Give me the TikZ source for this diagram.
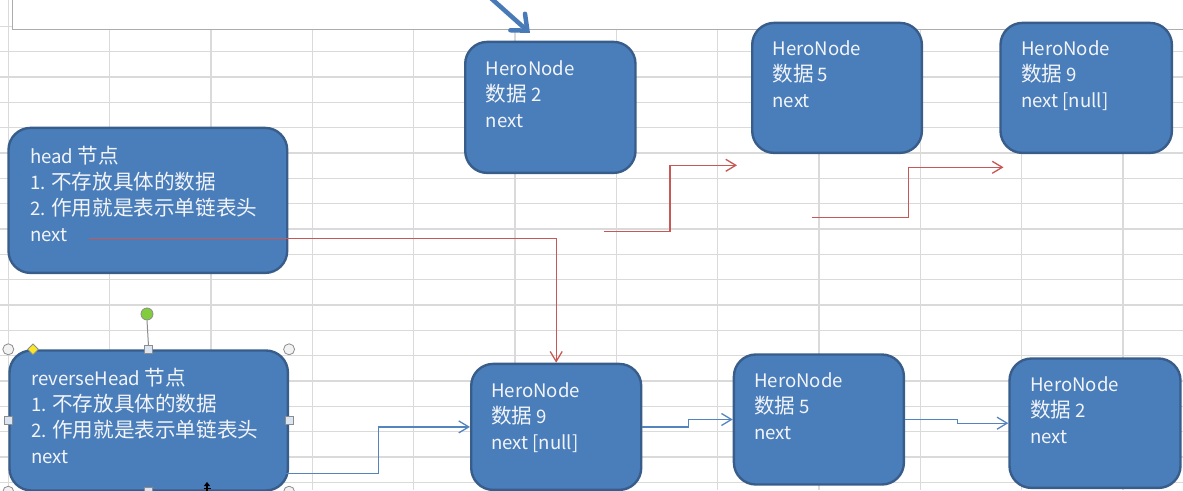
\documentclass[tikz,border=0pt]{standalone}
\usepackage{fontspec}
\setmainfont{Noto Sans CJK SC}
\usetikzlibrary{arrows.meta,shapes.geometric}
\newcommand\zh[1]{{\fontsize{20.6}{26}\selectfont #1}}
\definecolor{boxfill}{RGB}{74,126,187}
\definecolor{boxborder}{RGB}{56,93,138}
\definecolor{txtcol}{RGB}{242,244,248}
\definecolor{gridcol}{RGB}{218,218,218}
\definecolor{redline}{RGB}{200,88,86}
\definecolor{blueline}{RGB}{84,132,190}
\definecolor{bigblue}{RGB}{72,122,184}
\definecolor{handlefill}{RGB}{220,230,242}
\definecolor{handledraw}{RGB}{140,140,140}
\definecolor{greendot}{RGB}{130,205,60}
\definecolor{yellowd}{RGB}{250,230,40}
\begin{document}
\begin{tikzpicture}[x=1pt,y=-1pt,
  hbox/.style={draw=boxborder, fill=boxfill, line width=2.4pt, rounded corners=22pt, anchor=north west, inner sep=0pt},
  txt/.style={text=txtcol, font=\fontsize{18.6}{26}\selectfont, align=left, anchor=base west, inner sep=0pt},
  redc/.style={draw=redline, line width=1.3pt, -{Straight Barb[length=10pt,width=12pt]}},
  bluec/.style={draw=blueline, line width=1.3pt, -{Straight Barb[length=10pt,width=12pt]}},
  gridl/.style={draw=gridcol, line width=1.3pt},
  cornerh/.style={circle, draw=handledraw, fill=white!90!gray, line width=0.8pt, minimum size=11pt, inner sep=0pt},
  sideh/.style={rectangle, draw=handledraw, fill=handlefill, line width=0.8pt, minimum size=8pt, inner sep=0pt},
]
\useasboundingbox (0,0) rectangle (1183,490);
\clip (0,0) rectangle (1183,490);
% spreadsheet grid
\foreach \i in {0,...,11} \draw[gridl] (8.4+101.33*\i,0) -- (8.4+101.33*\i,490);
\foreach \j in {-1,...,17} \draw[gridl] (0,51.7+25.33*\j) -- (1183,51.7+25.33*\j);
% top white bar
\node[draw=gray!65, fill=white, line width=1pt, minimum width=1200pt, minimum height=31.3pt, anchor=north west, inner sep=0pt] (topbar) at (12,-2) {};
% big blue arrow
\coordinate (bigA) at (484,-8);
\coordinate (bigT) at (530,33);
\draw[draw=bigblue, line width=4.5pt, line cap=round, -{Straight Barb[length=13pt,width=22pt,line cap=round]}] (bigA) -- (bigT);
% boxes
\node[hbox, minimum width=170.3pt, minimum height=131pt] (top2) at (464,40.7) {};
\node[hbox, minimum width=169.7pt, minimum height=130pt] (top5) at (751,21.7) {};
\node[hbox, minimum width=171.4pt, minimum height=130pt] (top9) at (999.3,21.7) {};
\node[hbox, minimum width=278.7pt, minimum height=145pt] (head) at (7.3,126.7) {};
\node[hbox, minimum width=278.4pt, minimum height=140pt] (rh) at (8.3,349.3) {};
\node[hbox, minimum width=170pt, minimum height=126pt] (b9) at (470,362.7) {};
\node[hbox, minimum width=170pt, minimum height=130pt] (b5) at (732.7,353.3) {};
\node[hbox, minimum width=171pt, minimum height=129.4pt] (b2) at (1008.3,357.3) {};
% texts (anchored at the baseline of the last line)
\node[txt] (top2t) at (485.7,127.5) {HeroNode\\\zh{数据} 2\\next};
\node[txt] (top5t) at (772.3,107.5) {HeroNode\\\zh{数据} 5\\next};
\node[txt] (top9t) at (1021,107.5) {HeroNode\\\zh{数据} 9\\next [null]};
\node[txt] (headt) at (30,241) {head \zh{节点}\\1. \zh{不存放具体的数据}\\2. \zh{作用就是表示单链表头}\\next};
\node[txt] (rht) at (31,463.5) {reverseHead \zh{节点}\\1. \zh{不存放具体的数据}\\2. \zh{作用就是表示单链表头}\\next};
\node[txt] (b9t) at (491,449.2) {HeroNode\\\zh{数据} 9\\next [null]};
\node[txt] (b5t) at (754,439.2) {HeroNode\\\zh{数据} 5\\next};
\node[txt] (b2t) at (1030,443.2) {HeroNode\\\zh{数据} 2\\next};
% red connectors
\coordinate (hnext) at (89,238.3);
\draw[redc] (hnext) -| (b9.north);
\coordinate (r1a) at (603.5,231.7);
\coordinate (r1b) at (737,165.3);
\draw[redc] (r1a) -- ++(66.5,0) |- (r1b);
\coordinate (r2a) at (811.7,217.7);
\coordinate (r2b) at (1003.5,167.3);
\draw[redc] (r2a) -- ++(96.6,0) |- (r2b);
% blue connectors
\coordinate (rhout) at (286,473.3);
\draw[bluec] (rhout) -- ++(92.3,0) |- (b9.west);
\draw[bluec] (b9.east) -- ++(46,0) |- (b5.west);
\draw[bluec] (b5.east) -- ++(52.3,0) |- (b2.west);
% selection handles on reverseHead
\node[circle, draw=handledraw, fill=greendot, line width=0.8pt, minimum size=12pt, inner sep=0pt] (rot) at (147,314) {};
\draw[draw=handledraw, line width=1pt] (rot.south) -- (rh.north);
\node[cornerh] (hNW) at (rh.north west) {};
\node[cornerh] (hNE) at (rh.north east) {};
\node[cornerh] (hSW) at (rh.south west) {};
\node[cornerh] (hSE) at (rh.south east) {};
\node[sideh] (hN) at (rh.north) {};
\node[sideh] (hS) at (rh.south) {};
\node[sideh] (hW) at (rh.west) {};
\node[sideh] (hE) at (rh.east) {};
\node[diamond, draw=handledraw, fill=yellowd, line width=0.8pt, minimum size=11pt, inner sep=0pt, shape aspect=1] (adj) at (33,349.3) {};
% mouse cursor
\draw[black, line width=1.3pt, -{Triangle[length=4pt,width=6pt]}] (207,494) -- (207,482);
\draw[black, line width=1.1pt] (203.5,488.5) -- (210.5,488.5);
\end{tikzpicture}
\end{document}
